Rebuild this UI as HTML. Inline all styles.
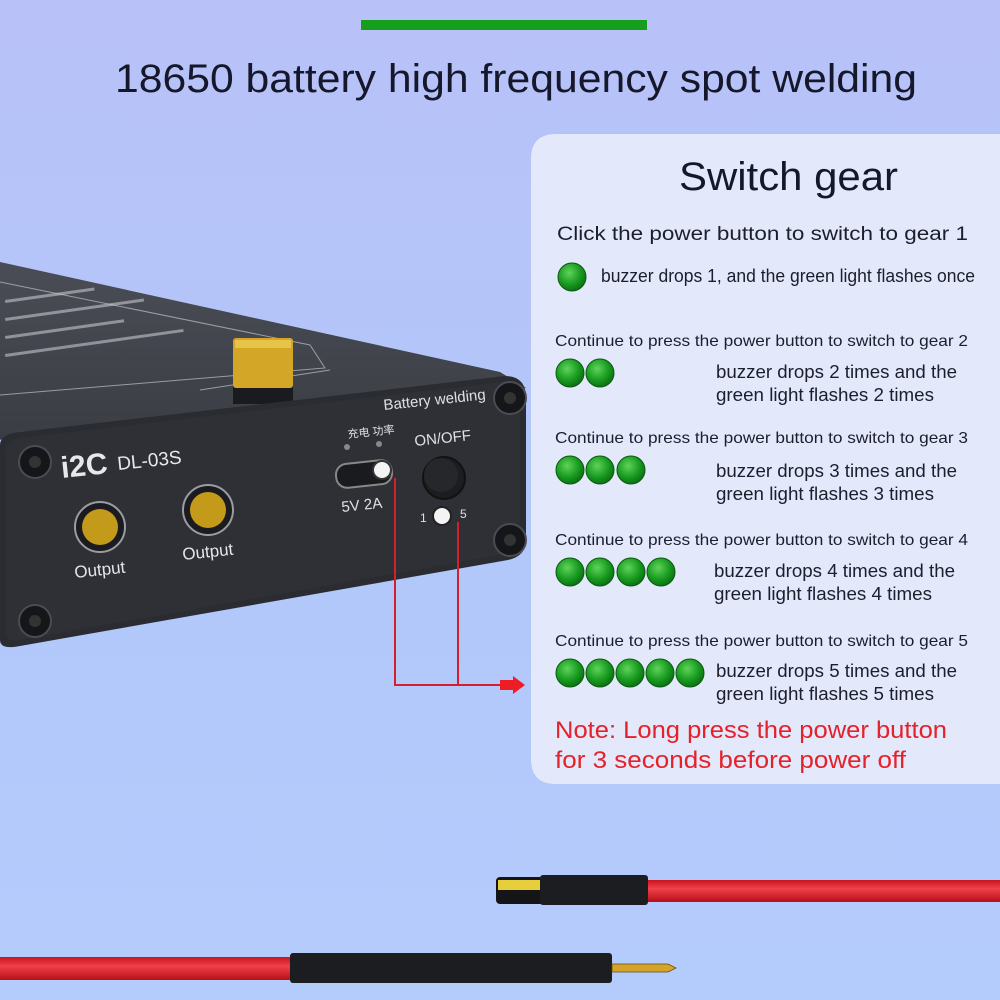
<!DOCTYPE html>
<html><head><meta charset="utf-8"><style>
html,body{margin:0;padding:0;width:1000px;height:1000px;overflow:hidden}
svg{display:block}
text{font-family:"Liberation Sans","Noto Sans CJK SC",sans-serif}
</style></head><body>
<svg width="1000" height="1000" viewBox="0 0 1000 1000" xmlns="http://www.w3.org/2000/svg">
<defs>
<linearGradient id="bg" x1="0" y1="0" x2="0" y2="1">
<stop offset="0" stop-color="#b8c2f8"/><stop offset="0.5" stop-color="#b2c6fa"/><stop offset="1" stop-color="#b4ccfc"/>
</linearGradient>
<radialGradient id="dot" cx="0.4" cy="0.35" r="0.7">
<stop offset="0" stop-color="#5fd35a"/><stop offset="0.6" stop-color="#179a1f"/><stop offset="1" stop-color="#0b6a12"/>
</radialGradient>
<linearGradient id="top" x1="0" y1="0" x2="0" y2="1">
<stop offset="0" stop-color="#4a4d55"/><stop offset="1" stop-color="#3a3d44"/>
</linearGradient>
<linearGradient id="red" x1="0" y1="0" x2="0" y2="1">
<stop offset="0" stop-color="#c8141f"/><stop offset="0.4" stop-color="#f0404a"/><stop offset="1" stop-color="#b50f18"/>
</linearGradient>
</defs>
<rect width="1000" height="1000" fill="url(#bg)"/>
<rect x="361" y="20" width="286" height="10" fill="#169f1c"/>
<text x="115" y="92" font-size="40" fill="#15172a" textLength="802" lengthAdjust="spacingAndGlyphs">18650 battery high frequency spot welding</text>

<!-- device -->
<polygon points="0,262 500,372 526,388 20,432 0,440" fill="url(#top)"/>
<g stroke="#bfc3cc" stroke-width="1" fill="none" opacity="0.7">
<polyline points="0,282 310,345 325,368 0,395"/>
<polyline points="200,390 330,370"/>
</g>
<g fill="#cfd2d8" opacity="0.55">
<rect x="5" y="300" width="90" height="3" transform="rotate(-8 5 300)"/>
<rect x="5" y="318" width="140" height="3" transform="rotate(-8 5 318)"/>
<rect x="5" y="336" width="120" height="3" transform="rotate(-8 5 336)"/>
<rect x="5" y="354" width="180" height="3" transform="rotate(-8 5 354)"/>
</g>
<rect x="233" y="384" width="60" height="20" fill="#1a1b1e"/>
<rect x="233" y="338" width="60" height="50" rx="3" fill="#d4a628"/>
<rect x="235" y="340" width="56" height="8" fill="#e8c34a"/>
<path d="M20,432 L505,376 Q526,376 526,398 L526,540 Q526,556 508,560 L20,646 Q0,650 0,640 L0,445 Q0,434 20,432 Z" fill="#2b2c31"/>
<path d="M20,438 L503,382 Q520,382 520,400 L520,538 Q520,551 505,554 L20,640 Q6,642 6,632 L6,450 Q6,440 20,438 Z" fill="#2f3036"/>
<g fill="#151619" stroke="#4a4c52" stroke-width="2">
<circle cx="35" cy="462" r="16"/><circle cx="510" cy="398" r="16"/><circle cx="510" cy="540" r="16"/><circle cx="35" cy="621" r="16"/>
</g>
<g fill="#333" ><circle cx="35" cy="462" r="6"/><circle cx="510" cy="398" r="6"/><circle cx="510" cy="540" r="6"/><circle cx="35" cy="621" r="6"/></g>
<text x="62" y="478" font-size="30" font-weight="bold" fill="#e8e8ea" transform="rotate(-6 62 478)">i2C</text>
<text x="118" y="470" font-size="19" fill="#e8e8ea" transform="rotate(-6 118 470)">DL-03S</text>
<text x="384" y="410" font-size="15" fill="#e0e0e4" transform="rotate(-6 384 410)">Battery welding</text>
<text x="348" y="438" font-size="11" fill="#e0e0e4" transform="rotate(-6 348 438)">充电  功率</text>
<circle cx="347" cy="447" r="3" fill="#888"/><circle cx="379" cy="444" r="3" fill="#888"/>
<rect x="336" y="462" width="56" height="24" rx="11" fill="#1a1b1e" stroke="#888" stroke-width="2" transform="rotate(-6 364 474)"/>
<circle cx="382" cy="470" r="9" fill="#f4f4f4" stroke="#333" stroke-width="2"/>
<text x="342" y="512" font-size="15" fill="#e0e0e4" transform="rotate(-6 342 512)">5V  2A</text>
<text x="415" y="446" font-size="15" fill="#e0e0e4" transform="rotate(-6 415 446)">ON/OFF</text>
<circle cx="444" cy="478" r="21" fill="#1c1d20" stroke="#111" stroke-width="2"/>
<circle cx="441" cy="475" r="17" fill="#26272b"/>
<text x="420" y="522" font-size="12" fill="#e0e0e4">1</text><text x="460" y="518" font-size="12" fill="#e0e0e4">5</text>
<circle cx="442" cy="516" r="9" fill="#f4f4f4" stroke="#222" stroke-width="2"/>
<g>
<circle cx="100" cy="527" r="25" fill="#1b1c1f" stroke="#9a9ca2" stroke-width="2"/>
<circle cx="100" cy="527" r="18" fill="#c49a1a"/>
<circle cx="208" cy="510" r="25" fill="#1b1c1f" stroke="#9a9ca2" stroke-width="2"/>
<circle cx="208" cy="510" r="18" fill="#c49a1a"/>
</g>
<text x="75" y="578" font-size="17" fill="#e6e6ea" transform="rotate(-6 75 578)">Output</text>
<text x="183" y="560" font-size="17" fill="#e6e6ea" transform="rotate(-6 183 560)">Output</text>

<!-- connectors -->
<g stroke="#d3202a" stroke-width="2" fill="none">
<polyline points="395,478 395,685 505,685"/>
<line x1="458" y1="522" x2="458" y2="685"/>
</g>
<rect x="500" y="680" width="15" height="10" fill="#ee1c24"/>
<polygon points="513,676 525,685 513,694" fill="#ee1c24"/>

<!-- panel -->
<path d="M556,134 L1000,134 L1000,784 L556,784 Q531,784 531,759 L531,159 Q531,134 556,134 Z" fill="#e3e8fb"/>
<text x="679" y="190" font-size="40" fill="#15172a" textLength="219" lengthAdjust="spacingAndGlyphs">Switch gear</text>
<text x="557" y="240" font-size="19" fill="#1c1e2c" textLength="411" lengthAdjust="spacingAndGlyphs">Click the power button to switch to gear 1</text>
<g font-size="18" fill="#1c1e2c">
<text x="601" y="282" textLength="374" lengthAdjust="spacingAndGlyphs">buzzer drops 1, and the green light flashes once</text>
</g>
<g font-size="16" fill="#1c1e2c">
<text x="555" y="346" textLength="413" lengthAdjust="spacingAndGlyphs">Continue to press the power button to switch to gear 2</text>
<text x="555" y="443" textLength="413" lengthAdjust="spacingAndGlyphs">Continue to press the power button to switch to gear 3</text>
<text x="555" y="545" textLength="413" lengthAdjust="spacingAndGlyphs">Continue to press the power button to switch to gear 4</text>
<text x="555" y="646" textLength="413" lengthAdjust="spacingAndGlyphs">Continue to press the power button to switch to gear 5</text>
</g>
<g font-size="18" fill="#1c1e2c">
<text x="716" y="378" textLength="241" lengthAdjust="spacingAndGlyphs">buzzer drops 2 times and the</text>
<text x="716" y="401" textLength="218" lengthAdjust="spacingAndGlyphs">green light flashes 2 times</text>
<text x="716" y="477" textLength="241" lengthAdjust="spacingAndGlyphs">buzzer drops 3 times and the</text>
<text x="716" y="500" textLength="218" lengthAdjust="spacingAndGlyphs">green light flashes 3 times</text>
<text x="714" y="577" textLength="241" lengthAdjust="spacingAndGlyphs">buzzer drops 4 times and the</text>
<text x="714" y="600" textLength="218" lengthAdjust="spacingAndGlyphs">green light flashes 4 times</text>
<text x="716" y="677" textLength="241" lengthAdjust="spacingAndGlyphs">buzzer drops 5 times and the</text>
<text x="716" y="700" textLength="218" lengthAdjust="spacingAndGlyphs">green light flashes 5 times</text>
</g>
<g font-size="24" fill="#e4222b">
<text x="555" y="738" textLength="392" lengthAdjust="spacingAndGlyphs">Note: Long press the power button</text>
<text x="555" y="768" textLength="351" lengthAdjust="spacingAndGlyphs">for 3 seconds before power off</text>
</g>
<g fill="url(#dot)" stroke="#0a5a10" stroke-width="1">
<circle cx="572" cy="277" r="14"/>
<circle cx="570" cy="373" r="14"/><circle cx="600" cy="373" r="14"/>
<circle cx="570" cy="470" r="14"/><circle cx="600" cy="470" r="14"/><circle cx="631" cy="470" r="14"/>
<circle cx="570" cy="572" r="14"/><circle cx="600" cy="572" r="14"/><circle cx="631" cy="572" r="14"/><circle cx="661" cy="572" r="14"/>
<circle cx="570" cy="673" r="14"/><circle cx="600" cy="673" r="14"/><circle cx="630" cy="673" r="14"/><circle cx="660" cy="673" r="14"/><circle cx="690" cy="673" r="14"/>
</g>

<!-- cables -->
<rect x="648" y="880" width="352" height="22" fill="url(#red)"/>
<rect x="496" y="877" width="50" height="27" rx="4" fill="#151518"/>
<rect x="498" y="880" width="42" height="10" fill="#e6cf3a"/>
<rect x="540" y="875" width="108" height="30" rx="3" fill="#1c1d20"/>
<rect x="0" y="957" width="292" height="23" fill="url(#red)"/>
<rect x="290" y="953" width="322" height="30" rx="3" fill="#1c1d20"/>
<polygon points="612,964 668,964 676,968 668,972 612,972" fill="#d4a52a" stroke="#6a4a08" stroke-width="0.8"/>
</svg>
</body></html>
